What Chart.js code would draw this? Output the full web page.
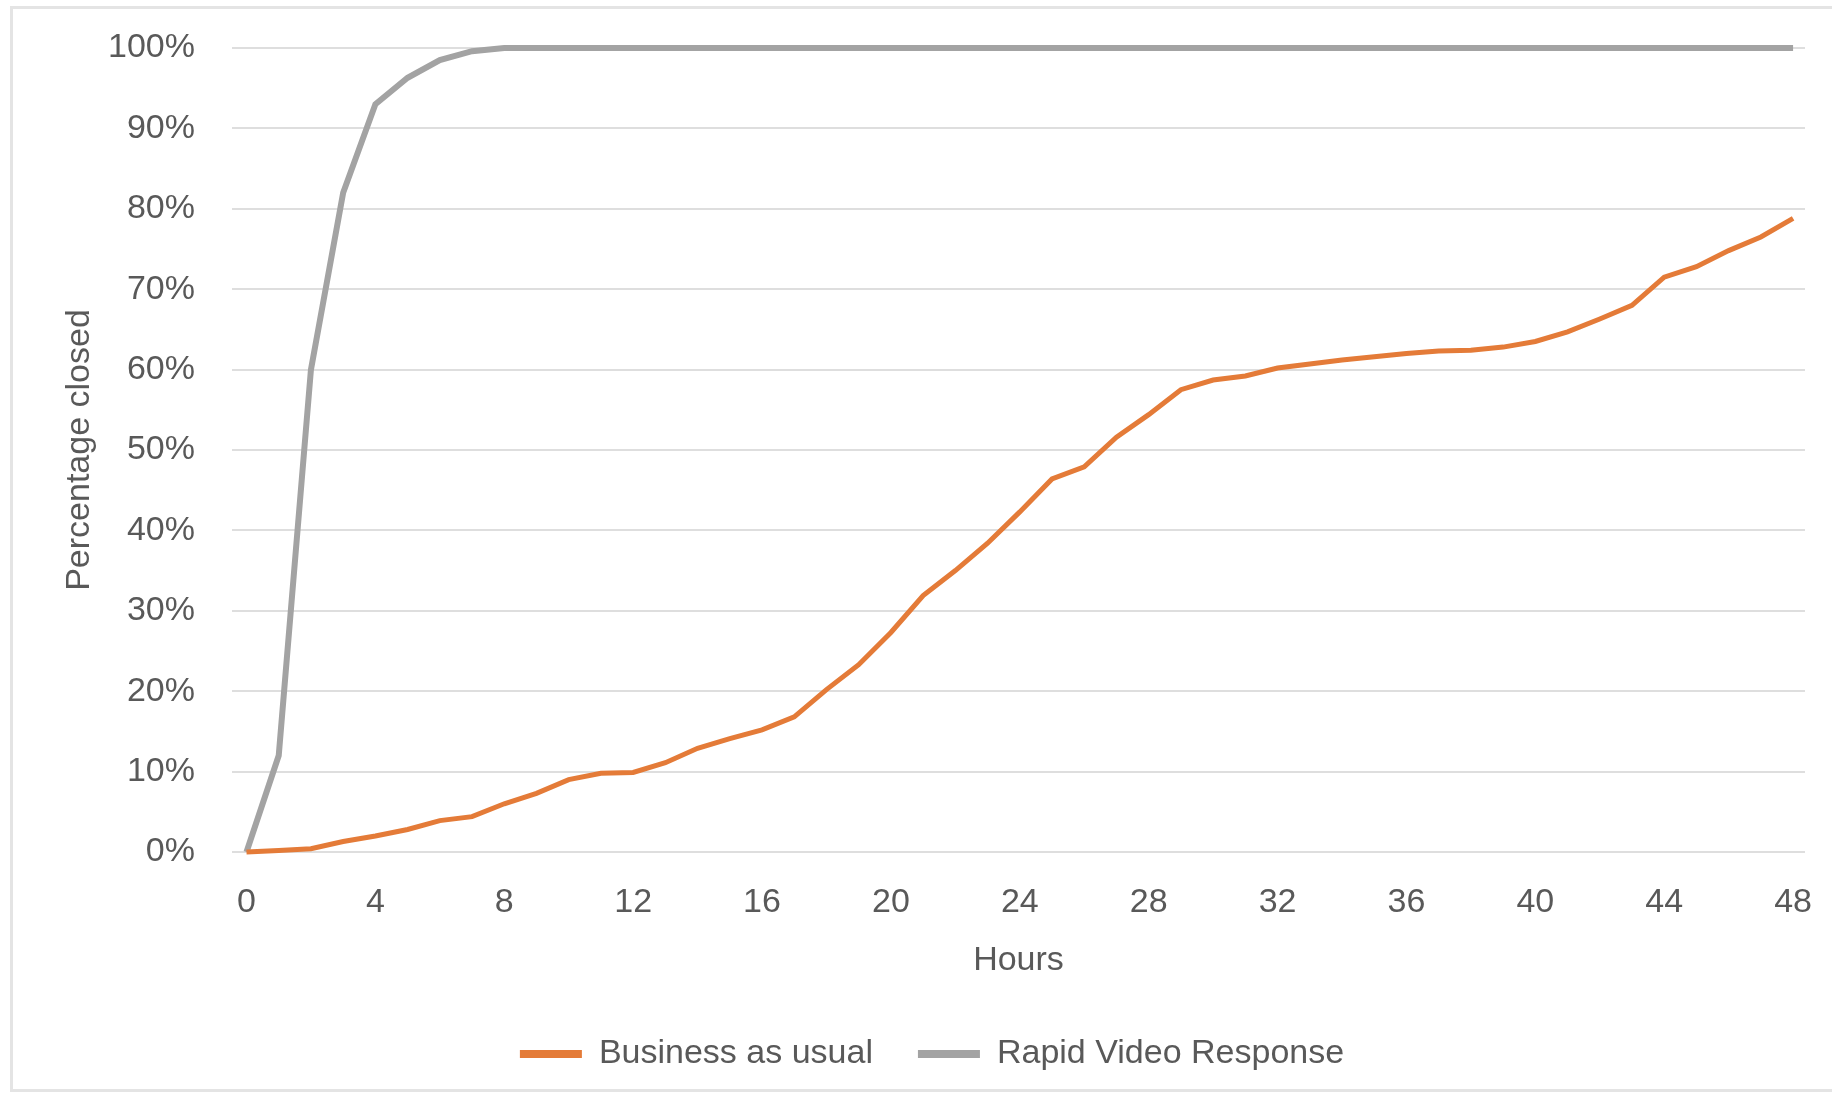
<!DOCTYPE html>
<html>
<head>
<meta charset="utf-8">
<script src="https://cdn.jsdelivr.net/npm/chart.js@4.4.0/dist/chart.umd.min.js"></script>
<style>
  html, body { margin: 0; padding: 0; background: #ffffff; overflow: hidden; }
  #wrap { position: relative; width: 1832px; height: 1104px; }
  #frame { position: absolute; left: 10px; top: 6px; width: 1840px; height: 1080px;
           border: 3px solid #e4e4e4; pointer-events: none; }
  canvas { position: absolute; left: 0; top: 0; }
</style>
</head>
<body>
<div id="wrap">
  <canvas id="c" width="1832" height="1104"></canvas>
  <div id="frame"></div>
</div>
<script>
const hours = [0,1,2,3,4,5,6,7,8,9,10,11,12,13,14,15,16,17,18,19,20,21,22,23,24,
               25,26,27,28,29,30,31,32,33,34,35,36,37,38,39,40,41,42,43,44,45,46,47,48];
const businessAsUsual = [0,0.2,0.4,1.3,2.0,2.8,3.9,4.4,6.0,7.3,9.0,9.8,9.9,11.1,12.9,14.1,15.2,16.8,20.2,23.3,27.3,
                         31.9,35.0,38.4,42.3,46.4,47.9,51.6,54.4,57.5,58.7,59.2,60.2,60.7,61.2,61.6,62.0,62.3,62.4,
                         62.8,63.5,64.7,66.3,68.0,71.5,72.8,74.8,76.5,78.8];
const rapidVideoResponse = [0,12,60,82,93,96.3,98.5,99.6,100,100,100,100,100,100,100,100,100,100,100,100,100,
                            100,100,100,100,100,100,100,100,100,100,100,100,100,100,100,100,100,100,
                            100,100,100,100,100,100,100,100,100,100];
const xTicks = [0,4,8,12,16,20,24,28,32,36,40,44,48];
const yTicks = [0,10,20,30,40,50,60,70,80,90,100];
const seriesNames = ['Business as usual', 'Rapid Video Response'];
const xTitle = 'Hours';
const yTitle = 'Percentage closed';

const FONT = 'Liberation Sans';
const TXT = '#595959';
const ORANGE = '#E47B38';
const GRAY = '#A3A3A3';

const toPts = (vals) => vals.map((v, i) => ({x: hours[i], y: v}));

new Chart(document.getElementById('c'), {
  type: 'line',
  data: {
    datasets: [
      { label: seriesNames[0], data: toPts(businessAsUsual), borderColor: ORANGE, backgroundColor: ORANGE,
        borderWidth: 5, pointRadius: 0, tension: 0, clip: false },
      { label: seriesNames[1], data: toPts(rapidVideoResponse), borderColor: GRAY, backgroundColor: GRAY,
        borderWidth: 6, pointRadius: 0, tension: 0, clip: false }
    ]
  },
  options: {
    responsive: false,
    animation: false,
    devicePixelRatio: 1,
    layout: { autoPadding: false, padding: { left: 59, right: 27, top: 48, bottom: 23 } },
    plugins: {
      tooltip: { enabled: false },
      legend: {
        position: 'bottom',
        labels: {
          font: { family: FONT, size: 34 },
          color: TXT,
          boxWidth: 62,
          boxHeight: 8,
          padding: 45,
          generateLabels: (chart) => Chart.defaults.plugins.legend.labels.generateLabels(chart)
            .map(l => Object.assign(l, { lineWidth: 0 }))
        }
      }
    },
    scales: {
      x: {
        type: 'linear',
        min: -0.45,
        max: 48.37,
        afterBuildTicks: (s) => { s.ticks = xTicks.map(v => ({ value: v })); },
        afterFit: (s) => { s.height = 140; s.paddingLeft = 0; s.paddingRight = 0; },
        grid: { display: false, drawTicks: false },
        border: { display: false },
        ticks: { font: { family: FONT, size: 34 }, color: TXT, padding: 30, maxRotation: 0, autoSkip: false },
        title: { display: true, text: xTitle, font: { family: FONT, size: 34 }, color: TXT,
                 padding: { top: 0, bottom: 11 } }
      },
      y: {
        min: 0,
        max: 100,
        afterBuildTicks: (s) => { s.ticks = yTicks.map(v => ({ value: v })); },
        afterFit: (s) => { s.width = 173; s.paddingTop = 0; s.paddingBottom = 0; },
        grid: { color: '#dedede', lineWidth: 2, drawTicks: false },
        border: { display: false },
        ticks: { font: { family: FONT, size: 34 }, color: TXT, padding: 37, callback: (v) => v + '%' },
        title: { display: true, text: yTitle, font: { family: FONT, size: 34 }, color: TXT,
                 padding: { top: 0, bottom: 0 } }
      }
    }
  }
});
</script>
</body>
</html>
